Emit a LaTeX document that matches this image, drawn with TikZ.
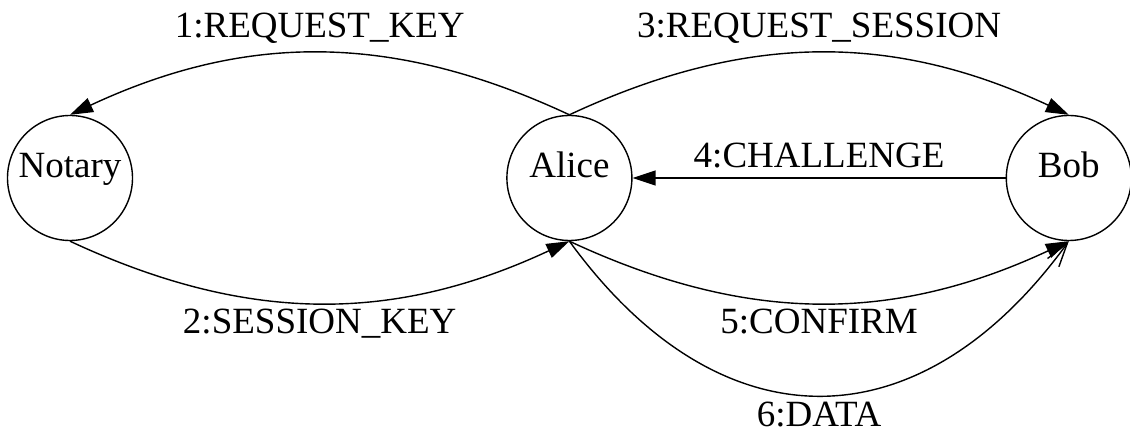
\documentclass[tikz,border=0pt]{standalone}
\usepackage{fontspec}
\setmainfont{Liberation Serif}
\usetikzlibrary{arrows.meta, positioning}
\tikzset{
  party/.style={circle, draw=black, line width=0.7pt, minimum size=62.5pt, inner sep=0pt, text height=0.6em, text depth=0.6em, font=\fontsize{18.5}{22}\selectfont},
  msg/.style={font=\fontsize{18.5}{22}\selectfont, inner sep=2.5pt},
  msgup/.style={msg, inner sep=4.5pt},
  arrow/.style={line width=0.7pt, -{Triangle[length=11.5pt, width=7.5pt]}},
  openarrow/.style={line width=0.7pt, -{Straight Barb[length=12pt, width=7pt, line width=0.7pt]}}
}
\begin{document}
\begin{tikzpicture}[x=0.5pt, y=0.5pt, node distance=186.5pt]
\useasboundingbox (0,0) rectangle (1130,439);

% Parties
\node (notary) [party] at (70,261) {Notary};
\node (alice) [party, right=of notary] {Alice};
\node (bob) [party, right=of alice] {Bob};

% Messages
\draw [arrow] (alice.north) to[bend right=25] node[msgup, midway, above] (m1) {1:REQUEST\_KEY} (notary.north);
\draw [arrow] (notary.south) to[bend right=25] node[msg, midway, below] (m2) {2:SESSION\_KEY} (alice.south);
\draw [arrow] (alice.north) to[bend left=25] node[msgup, midway, above] (m3) {3:REQUEST\_SESSION} (bob.north);
\draw [arrow] (bob.west) -- node[msgup, midway, above] (m4) {4:CHALLENGE} (alice.east);
\draw [arrow] (alice.south) to[bend right=25] node[msg, midway, below] (m5) {5:CONFIRM} (bob.south);
\draw [openarrow] (alice.south) to[out=-54, in=-126, looseness=1.31] node[msg, midway, below] (m6) {6:DATA} (bob.south);

\end{tikzpicture}
\end{document}
